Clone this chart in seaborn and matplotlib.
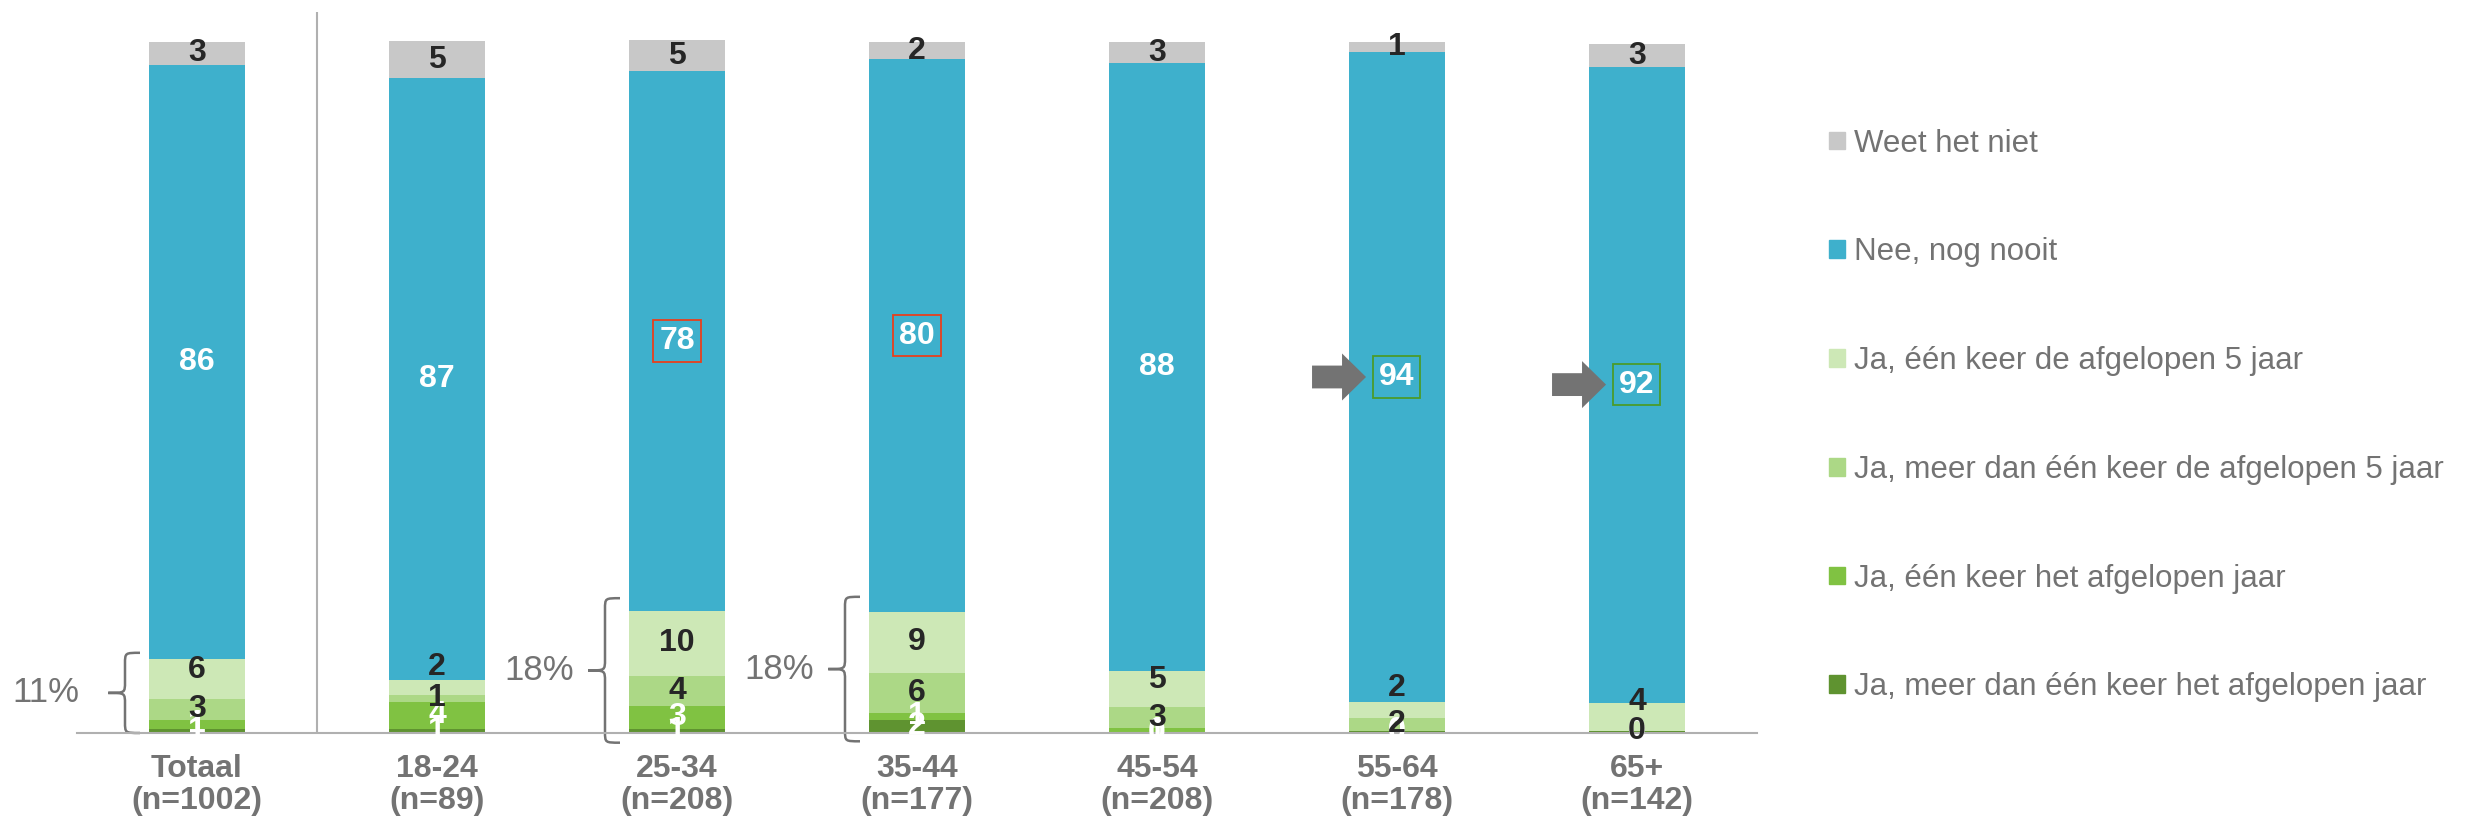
import numpy as np
import pandas as pd
import matplotlib.pyplot as plt
import seaborn as sns
from matplotlib.patches import Patch, FancyArrow, PathPatch
from matplotlib.path import Path

categories = ["Totaal\n(n=1002)", "18-24\n(n=89)", "25-34\n(n=208)", "35-44\n(n=177)",
              "45-54\n(n=208)", "55-64\n(n=178)", "65+\n(n=142)"]

# percentages, stacked from the bottom up
ja_meer_jaar = [0.6, 0.6, 0.6, 1.9, 0.0, 0.3, 0.3]
ja_een_jaar = [1.3, 3.9, 3.3, 1.0, 0.7, 0.0, 0.0]
ja_meer_5jaar = [3.0, 1.0, 4.3, 5.8, 3.0, 1.9, 0.0]
ja_een_5jaar = [5.8, 2.2, 9.5, 8.8, 5.2, 2.3, 4.1]
nee = [86, 87, 78, 80, 88, 94, 92]
weet_niet = [3.3, 5.4, 4.5, 2.4, 3.0, 1.4, 3.2]

series = [
    ("Ja, meer dan één keer het afgelopen jaar", ja_meer_jaar, "#5f9330", "white"),
    ("Ja, één keer het afgelopen jaar", ja_een_jaar, "#80c242", "white"),
    ("Ja, meer dan één keer de afgelopen 5 jaar", ja_meer_5jaar, "#acd886", "#262626"),
    ("Ja, één keer de afgelopen 5 jaar", ja_een_5jaar, "#cde8b6", "#262626"),
    ("Nee, nog nooit", nee, "#3eb0cc", "white"),
    ("Weet het niet", weet_niet, "#c8c8c8", "#262626"),
]

# small manual lifts of the "één keer de afgelopen 5 jaar" labels, like the original
een5_nudge = [1.3, 2.95, 0, 0, 1.4, 3.15, 2.15]
box_colors = {2: "#e8401c", 3: "#e8401c", 5: "#4b9b2a", 6: "#4b9b2a"}
arrow_at = [5, 6]
braces = [(0, 0.0, 11.6, -0.49), (2, -1.4, 19.5, -0.43), (3, -1.2, 19.7, -0.43)]


def half_up(v):
    return int(np.floor(v + 0.5))


sns.set_style("white")
plt.rcParams["font.family"] = ["Liberation Sans", "DejaVu Sans"]
grey = "#737373"
axis_grey = "#b0b0b0"

fig = plt.figure(figsize=(24.65, 8.26), dpi=100)
ax = fig.add_axes([77 / 2465, 93 / 826, 1680 / 2465, 721 / 826])

bottom = np.zeros(len(categories))
for name, vals, color, txt in series:
    sns.barplot(x=categories, y=vals, order=categories, color=color, width=0.4,
                saturation=1, errorbar=None, linewidth=0, bottom=bottom.copy(), ax=ax)
    for i, v in enumerate(vals):
        y = bottom[i] + v / 2
        if name == "Ja, één keer de afgelopen 5 jaar":
            y += een5_nudge[i]
        kw = {}
        if name == "Nee, nog nooit" and i in box_colors:
            kw["bbox"] = dict(boxstyle="square,pad=0.18", fc="none", ec=box_colors[i], lw=1.3)
        ax.text(i, y, f"{half_up(v)}", ha="center", va="center", fontsize=23,
                fontweight="bold", color=txt, zorder=5, clip_on=False, **kw)
    bottom += np.array(vals)

# arrows pointing at the highlighted values
for i in arrow_at:
    y = ja_meer_jaar[i] + ja_een_jaar[i] + ja_meer_5jaar[i] + ja_een_5jaar[i] + nee[i] / 2
    ax.add_patch(FancyArrow(i - 0.354, y, 0.225, 0, width=3.3, head_width=6.8,
                            head_length=0.1, length_includes_head=True,
                            color=grey, lw=0, zorder=6))


def draw_brace(ax, i, y0, y1):
    xa, xv, xt = i - 0.2375, i - 0.30, i - 0.37
    ym = (y0 + y1) / 2
    r = 1.6
    verts = [(xa, y1), (xv, y1), (xv, y1), (xv, y1 - r),
             (xv, ym + r), (xv, ym), (xv, ym), (xt, ym),
             (xv, ym), (xv, ym), (xv, ym - r),
             (xv, y0 + r), (xv, y0), (xv, y0), (xa, y0)]
    codes = [Path.MOVETO, Path.CURVE4, Path.CURVE4, Path.CURVE4, Path.LINETO,
             Path.CURVE4, Path.CURVE4, Path.CURVE4, Path.CURVE4, Path.CURVE4, Path.CURVE4,
             Path.LINETO, Path.CURVE4, Path.CURVE4, Path.CURVE4]
    ax.add_patch(PathPatch(Path(verts, codes), fc="none", ec=grey, lw=1.8, clip_on=False))
    return ym


for i, y0, y1, off in braces:
    ym = draw_brace(ax, i, y0, y1)
    total = ja_meer_jaar[i] + ja_een_jaar[i] + ja_meer_5jaar[i] + ja_een_5jaar[i]
    ax.text(i + off, ym, f"{half_up(total)}%", ha="right", va="center", fontsize=25, color=grey)

ax.set_xlim(-0.5, len(categories) - 0.5)
ax.set_ylim(0, 104.3)
ax.axvline(0.5, color=axis_grey, lw=1.5)
for s in ["left", "top", "right"]:
    ax.spines[s].set_visible(False)
ax.spines["bottom"].set_color(axis_grey)
ax.spines["bottom"].set_linewidth(1.5)
ax.set_yticks([])
ax.set_xticks(range(len(categories)))
ax.set_xticklabels(categories, fontsize=23, fontweight="bold", color=grey, linespacing=1.1)
ax.set_xticks(np.arange(-0.5, len(categories), 1), minor=True)
ax.tick_params(axis="x", which="major", length=0, pad=15)
ax.tick_params(axis="x", which="minor", length=7.2, width=1.5, color=axis_grey)
ax.set_xlabel("")
ax.set_ylabel("")

handles = [Patch(color=c, label=n) for n, v, c, t in series[::-1]]
fig.legend(handles=handles, loc="center left", bbox_to_anchor=(1829 / 2465, 0.497),
           frameon=False, fontsize=22.5, labelcolor=grey, handlelength=0.5,
           handleheight=0.5, handletextpad=0.3, labelspacing=2.52,
           borderpad=0, borderaxespad=0)

fig.savefig("out.png", dpi=100)
